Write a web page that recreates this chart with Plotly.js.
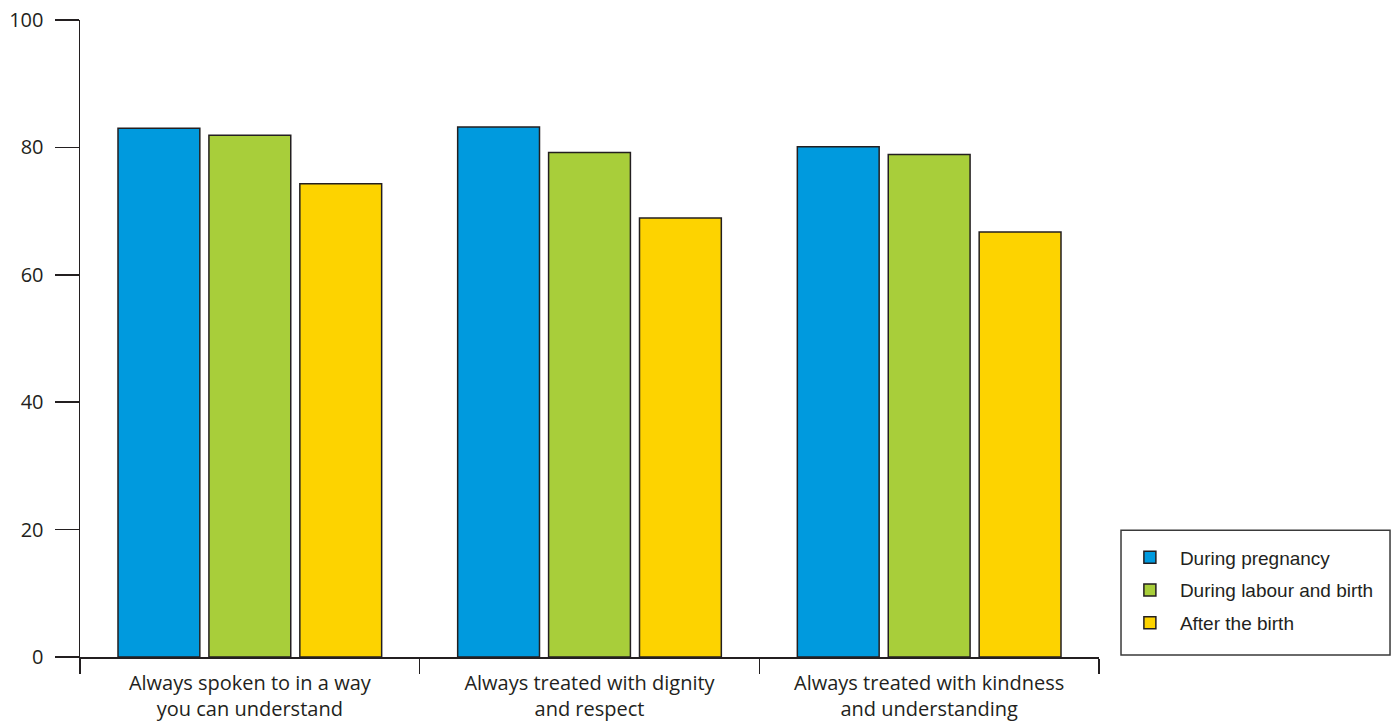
<!DOCTYPE html>
<html>
<head>
<meta charset="utf-8">
<script src="https://cdn.plot.ly/plotly-3.0.1.min.js"></script>
<style>html,body{margin:0;padding:0;background:#fff;}#chart{width:1391px;height:725px;}</style>
</head>
<body>
<div id="chart"></div>
<script>
const categories = [
  "Always spoken to in a way<br>you can understand",
  "Always treated with dignity<br>and respect",
  "Always treated with kindness<br>and understanding"
];
const seriesNames = ["During pregnancy", "During labour and birth", "After the birth"];
const duringPregnancy = [83, 83.2, 80.1];
const duringLabour = [81.9, 79.2, 78.9];
const afterBirth = [74.3, 68.9, 66.7];
const seriesColors = ["#009ade", "#a8ce3a", "#fdd300"];
const yTicks = [0, 20, 40, 60, 80, 100];

const ink = "#231f20";
const seriesValues = [duringPregnancy, duringLabour, afterBirth];
const traces = seriesValues.map((vals, i) => ({
  type: "bar",
  name: seriesNames[i],
  x: categories,
  y: vals,
  legendgroup: "g" + i,
  marker: {color: seriesColors[i], line: {color: ink, width: 1.5}},
  hoverinfo: "skip"
}));

const layout = {
  width: 1391, height: 725,
  margin: {l: 80, r: 292, t: 20, b: 68, pad: 0},
  paper_bgcolor: "#fff", plot_bgcolor: "#fff",
  font: {family: "Open Sans, sans-serif", color: ink, size: 20},
  barmode: "group",
  bargap: 0.197,
  bargroupgap: 0.1,
  showlegend: true,
  xaxis: {
    type: "category",
    range: [-0.5, 2.5],
    tickson: "boundaries",
    ticks: "outside", ticklen: 15, tickwidth: 1.5, tickcolor: ink,
    showline: true, linecolor: ink, linewidth: 1.5,
    showgrid: false, zeroline: false,
    tickfont: {size: 20, family: "Open Sans, sans-serif", color: ink},
    ticklabelstandoff: 7
  },
  yaxis: {
    range: [0, 100],
    tickvals: yTicks,
    ticktext: yTicks.map(String),
    ticks: "outside", ticklen: 24, tickwidth: 1.5, tickcolor: ink,
    showline: true, linecolor: ink, linewidth: 1.5,
    showgrid: false, zeroline: false,
    tickfont: {size: 20, family: "Open Sans, sans-serif", color: ink},
    ticklabelstandoff: 7
  },
  legend: {
    x: 1.0205, xanchor: "left",
    y: 0.186, yanchor: "top",
    bgcolor: "rgba(0,0,0,0)",
    borderwidth: 0,
    font: {family: "Liberation Sans, Arial, sans-serif", size: 19, color: ink},
    traceorder: "grouped",
    tracegroupgap: 5,
    itemwidth: 50
  },
  shapes: [{
    type: "rect", xref: "paper", yref: "paper",
    x0: 1.0216, x1: 1.2856, y0: 0.003, y1: 0.199,
    line: {color: "#3a3a3a", width: 1.5},
    fillcolor: "rgba(0,0,0,0)", layer: "below"
  }]
};

Plotly.newPlot("chart", traces, layout, {displayModeBar: false, staticPlot: true});
</script>
</body>
</html>
